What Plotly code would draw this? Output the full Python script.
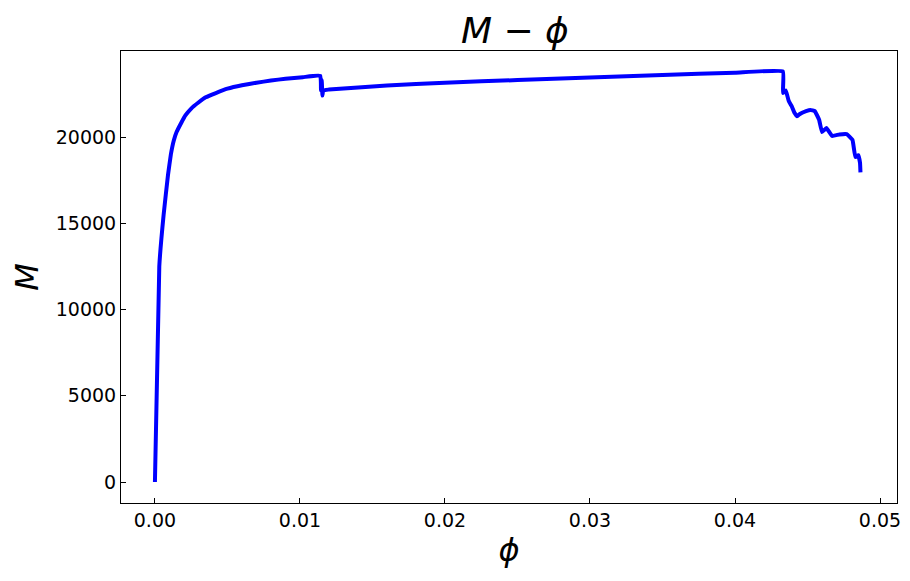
import plotly.graph_objects as go

phi = [0, 0.0003, 0.0006, 0.0009, 0.0011, 0.0013, 0.0015, 0.0018, 0.0021, 0.0025, 0.003, 0.0035, 0.0042,
       0.005, 0.006, 0.007, 0.008, 0.009, 0.0102, 0.0114,
       0.01145, 0.0115, 0.01155, 0.0116, 0.012, 0.016, 0.02, 0.025, 0.03, 0.035, 0.04, 0.0433,
       0.04331, 0.0435, 0.0437, 0.0439, 0.0441, 0.04428, 0.0445, 0.0449, 0.0452, 0.0455, 0.0458,
       0.0460, 0.0463, 0.0467, 0.0472, 0.0477, 0.0481, 0.0483, 0.0485, 0.04862, 0.04865]
M = [0, 12500, 15500, 17800, 19000, 19800, 20300, 20800, 21250, 21650, 22000, 22300, 22550,
     22800, 23000, 23150, 23270, 23380, 23470, 23550,
     22700, 23300, 22400, 22700, 22750, 22980, 23150, 23300, 23450, 23600, 23730, 23800,
     22550, 22700, 22100, 21800, 21400, 21200, 21350, 21500, 21570, 21500, 21000,
     20290, 20520, 20060, 20150, 20170, 19830, 18840, 18950, 18500, 17950]
yticks = [0, 5000, 10000, 15000, 20000]

fig = go.Figure(go.Scatter(x=phi, y=M, mode="lines", line=dict(color="blue", width=4, shape="spline", smoothing=0.3)))
ax = dict(showgrid=False, zeroline=False, showline=True, linecolor="black", mirror=True, automargin=False,
          ticks="inside", ticklen=5, tickcolor="black", tickfont=dict(size=19, color="black"))
fig.update_layout(
    width=910, height=581, plot_bgcolor="white", paper_bgcolor="white",
    font=dict(family="DejaVu Sans", color="black"),
    margin=dict(l=113, r=21, t=43, b=86), showlegend=False,
    title=dict(text="<i>M</i> − <i>ϕ</i>", x=0.557, xanchor="center", y=0.962, yanchor="middle",
               font=dict(size=36)),
    xaxis=dict(**ax, range=[-0.00234, 0.05117], tickvals=[0, 0.01, 0.02, 0.03, 0.04, 0.05],
               ticktext=["0.00", "0.01", "0.02", "0.03", "0.04", "0.05"],
               title=dict(text="<i>ϕ</i>", font=dict(size=32), standoff=8)),
    yaxis=dict(**ax, range=[-1217, 24986], tickvals=yticks, ticktext=[str(v) for v in yticks],
               title=dict(text="<i>M</i>", font=dict(size=32), standoff=14)),
)
fig.write_html("out.html")
